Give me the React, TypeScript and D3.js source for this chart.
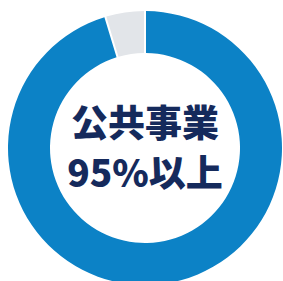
import React from 'react'
import * as d3 from 'd3'

const categories = ['公共事業', 'その他']
const values = [95.5, 4.5]
const colors = ['#0c82c6', '#e2e5e9']
const labelLines = ['公共事業', '95%以上']

const W = 283
const H = 281

const App = () => {
  const cx = 145
  const cy = 148
  const outerR = 137
  const innerR = 95

  const pie = d3.pie<number>().sort(null).padAngle(0.012)
  const arcs = pie(values)
  const arc = d3.arc<d3.PieArcDatum<number>>().innerRadius(innerR).outerRadius(outerR)

  return (
    <svg width={W} height={H} style={{ position: 'fixed', left: 0, top: 0, background: '#fff' }}>
      <g transform={`translate(${cx},${cy})`}>
        {arcs.map((a, i) => (
          <path key={categories[i]} d={arc(a) || ''} fill={colors[i]} />
        ))}
        {labelLines.map((t, i) => (
          <text
            key={t}
            x={0}
            y={-11 + i * 50}
            textAnchor="middle"
            fontFamily="'Noto Sans CJK JP', sans-serif"
            fontWeight={900}
            fontSize={37}
            fill="#152a5c"
          >
            {t}
          </text>
        ))}
      </g>
    </svg>
  )
}

export default App
